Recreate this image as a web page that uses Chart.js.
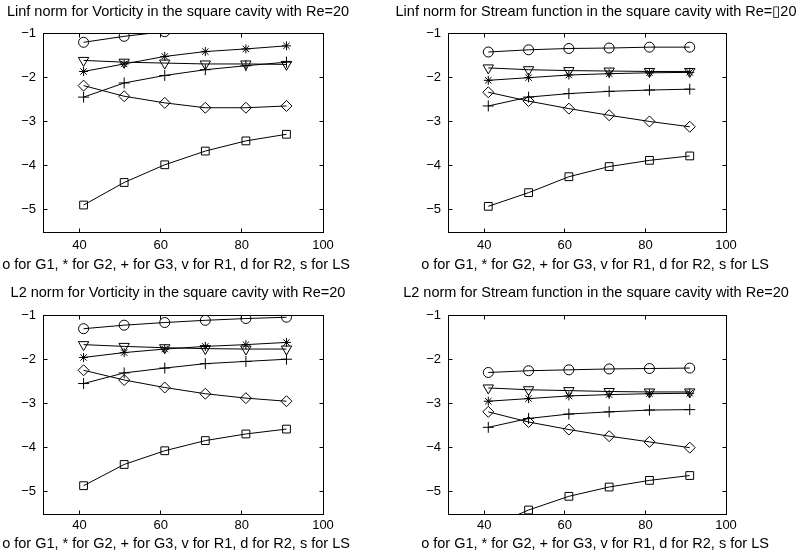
<!DOCTYPE html>
<html>
<head>
<meta charset="utf-8">
<script src="https://cdn.jsdelivr.net/npm/chart.js@4.4.0/dist/chart.umd.min.js"></script>
<style>
  body { margin: 0; background: #fff; width: 800px; height: 552px; position: relative; overflow: hidden; }
  canvas { position: absolute; }
</style>
</head>
<body>
<canvas id="c1" width="400" height="276" style="left:0px;top:0px"></canvas>
<canvas id="c2" width="420" height="276" style="left:380px;top:0px"></canvas>
<canvas id="c3" width="400" height="276" style="left:0px;top:276px"></canvas>
<canvas id="c4" width="420" height="276" style="left:380px;top:276px"></canvas>
<script>
// grid sizes (x) and log10 error values
const xValues = [41, 51, 61, 71, 81, 91];
const xTicks = [40, 60, 80, 100];
const yTicks = [-5, -4, -3, -2, -1];

// Linf norm, vorticity
const linfVortG1 = [-1.21, -1.075, -0.97, -0.9, -0.85, -0.81];
const linfVortG2 = [-1.87, -1.70, -1.53, -1.42, -1.36, -1.29];
const linfVortG3 = [-2.45, -2.13, -1.96, -1.83, -1.74, -1.66];
const linfVortR1 = [-1.62, -1.66, -1.68, -1.70, -1.70, -1.71];
const linfVortR2 = [-2.19, -2.43, -2.58, -2.69, -2.69, -2.65];
const linfVortLS = [-4.89, -4.38, -3.98, -3.67, -3.44, -3.29];

// Linf norm, stream function
const linfStrG1 = [-1.43, -1.38, -1.35, -1.34, -1.32, -1.32];
const linfStrG2 = [-2.07, -2.01, -1.95, -1.92, -1.90, -1.89];
const linfStrG3 = [-2.65, -2.45, -2.37, -2.32, -2.29, -2.27];
const linfStrR1 = [-1.79, -1.83, -1.85, -1.86, -1.87, -1.87];
const linfStrR2 = [-2.34, -2.54, -2.71, -2.86, -3.00, -3.12];
const linfStrLS = [-4.92, -4.61, -4.25, -4.02, -3.88, -3.78];

// L2 norm, vorticity
const l2VortG1 = [-1.31, -1.23, -1.17, -1.12, -1.08, -1.05];
const l2VortG2 = [-1.96, -1.85, -1.77, -1.71, -1.67, -1.62];
const l2VortG3 = [-2.55, -2.31, -2.20, -2.10, -2.05, -2.00];
const l2VortR1 = [-1.67, -1.71, -1.74, -1.76, -1.77, -1.77];
const l2VortR2 = [-2.25, -2.47, -2.64, -2.78, -2.88, -2.95];
const l2VortLS = [-4.86, -4.38, -4.07, -3.84, -3.69, -3.58];

// L2 norm, stream function
const l2StrG1 = [-2.30, -2.26, -2.24, -2.22, -2.21, -2.20];
const l2StrG2 = [-2.95, -2.89, -2.83, -2.80, -2.78, -2.77];
const l2StrG3 = [-3.54, -3.34, -3.24, -3.19, -3.15, -3.14];
const l2StrR1 = [-2.65, -2.69, -2.71, -2.73, -2.74, -2.74];
const l2StrR2 = [-3.19, -3.42, -3.59, -3.74, -3.87, -4.00];
const l2StrLS = [-5.80, -5.41, -5.10, -4.89, -4.74, -4.63];

const xLabel = 'o for G1, * for G2, + for G3, v for R1, d for R2, s for LS';

const FONT = '"Liberation Sans", Arial, Helvetica, sans-serif';
Chart.defaults.color = '#000';
Chart.defaults.font.family = FONT;
Chart.defaults.font.size = 13;

// one marker per method, all black and hollow like the matlab plot
const markers = [
  { pointStyle: 'circle', radius: 5, rotation: 0 },
  { pointStyle: 'star', radius: 4.5, rotation: 0 },
  { pointStyle: 'cross', radius: 5.5, rotation: 0 },
  { pointStyle: 'triangle', radius: 6, rotation: 180 },
  { pointStyle: 'rectRot', radius: 5.5, rotation: 0 },
  { pointStyle: 'rect', radius: 5.5, rotation: 0 }
];

function fmtTick(v) {
  return v < 0 ? '\u2212' + Math.abs(v) : String(v);
}

// box round the plot and small ticks pointing inwards on all four sides
const boxTicks = {
  id: 'boxTicks',
  afterDraw(chart) {
    const ctx = chart.ctx;
    const a = chart.chartArea;
    const L = Math.floor(a.left) + 0.5, R = Math.floor(a.right) + 0.5;
    const T = Math.floor(a.top) + 0.5, B = Math.floor(a.bottom) + 0.5;
    const len = 4;
    ctx.save();
    ctx.strokeStyle = '#000';
    ctx.lineWidth = 1;
    ctx.strokeRect(L, T, R - L, B - T);
    ctx.beginPath();
    chart.scales.x.ticks.forEach(t => {
      const px = Math.floor(chart.scales.x.getPixelForValue(t.value)) + 0.5;
      ctx.moveTo(px, B); ctx.lineTo(px, B - len);
      ctx.moveTo(px, T); ctx.lineTo(px, T + len);
    });
    chart.scales.y.ticks.forEach(t => {
      const py = Math.floor(chart.scales.y.getPixelForValue(t.value)) + 0.5;
      ctx.moveTo(L, py); ctx.lineTo(L + len, py);
      ctx.moveTo(R, py); ctx.lineTo(R - len, py);
    });
    ctx.stroke();
    ctx.restore();
  }
};

// title and x label, drawn at full width (chart.js would squeeze them into the plot width)
const panelText = {
  id: 'panelText',
  afterDraw(chart, args, opts) {
    const ctx = chart.ctx;
    ctx.save();
    ctx.fillStyle = '#000';
    ctx.font = opts.size + 'px ' + FONT;
    ctx.textAlign = 'center';
    ctx.textBaseline = 'middle';
    ctx.fillText(opts.title, opts.titleX, opts.titleY);
    ctx.fillText(opts.xLabel, opts.labelX, opts.labelY);
    ctx.restore();
  }
};

function makeChart(id, title, seriesList, lay) {
  const datasets = seriesList.map((s, i) => ({
    data: xValues.map((x, j) => ({ x: x, y: s[j] })),
    borderColor: '#000',
    borderWidth: 1,
    tension: 0,
    pointStyle: markers[i].pointStyle,
    pointRadius: markers[i].radius,
    pointRotation: markers[i].rotation,
    pointBorderColor: '#000',
    pointBorderWidth: 1,
    pointBackgroundColor: 'rgba(0,0,0,0)'
  }));

  return new Chart(document.getElementById(id), {
    type: 'line',
    data: { datasets: datasets },
    options: {
      responsive: false,
      animation: false,
      devicePixelRatio: 1,
      layout: { padding: { left: 0, right: lay.padRight, top: lay.padTop, bottom: 0 } },
      plugins: {
        legend: { display: false },
        tooltip: { enabled: false },
        title: { display: false },
        panelText: {
          title: title,
          xLabel: xLabel,
          size: 14.5,
          titleX: lay.titleX,
          labelX: lay.labelX,
          titleY: lay.titleY,
          labelY: lay.labelY
        }
      },
      scales: {
        x: {
          type: 'linear',
          min: 31,
          max: 100,
          afterBuildTicks: s => { s.ticks = xTicks.map(v => ({ value: v })); },
          afterFit: s => { s.height = lay.xHeight; },
          grid: { display: false, drawTicks: false },
          border: { display: false },
          ticks: { padding: lay.tickPad, maxRotation: 0 }
        },
        y: {
          type: 'linear',
          min: -5.5,
          max: -1,
          afterBuildTicks: s => { s.ticks = yTicks.map(v => ({ value: v })); },
          afterFit: s => { s.width = lay.yWidth; },
          grid: { display: false, drawTicks: false },
          border: { display: false },
          ticks: { padding: 7, callback: v => fmtTick(v) }
        }
      }
    },
    plugins: [boxTicks, panelText]
  });
}

const topLeft = { yWidth: 43, padRight: 77, padTop: 33, xHeight: 44, tickPad: 6, titleX: 178, labelX: 176, titleY: 12, labelY: 265 };
const topRight = { yWidth: 68, padRight: 74, padTop: 33, xHeight: 44, tickPad: 6, titleX: 216, labelX: 215, titleY: 12, labelY: 265 };
const botLeft = { yWidth: 43, padRight: 77, padTop: 39, xHeight: 38, tickPad: 4, titleX: 178, labelX: 176, titleY: 17, labelY: 268 };
const botRight = { yWidth: 68, padRight: 74, padTop: 39, xHeight: 38, tickPad: 4, titleX: 216, labelX: 215, titleY: 17, labelY: 268 };

makeChart('c1', 'Linf norm for Vorticity in the square cavity with Re=20',
  [linfVortG1, linfVortG2, linfVortG3, linfVortR1, linfVortR2, linfVortLS], topLeft);
makeChart('c2', 'Linf norm for Stream function in the square cavity with Re=\u25AF20',
  [linfStrG1, linfStrG2, linfStrG3, linfStrR1, linfStrR2, linfStrLS], topRight);
makeChart('c3', 'L2 norm for Vorticity in the square cavity with Re=20',
  [l2VortG1, l2VortG2, l2VortG3, l2VortR1, l2VortR2, l2VortLS], botLeft);
makeChart('c4', 'L2 norm for Stream function in the square cavity with Re=20',
  [l2StrG1, l2StrG2, l2StrG3, l2StrR1, l2StrR2, l2StrLS], botRight);
</script>
</body>
</html>
